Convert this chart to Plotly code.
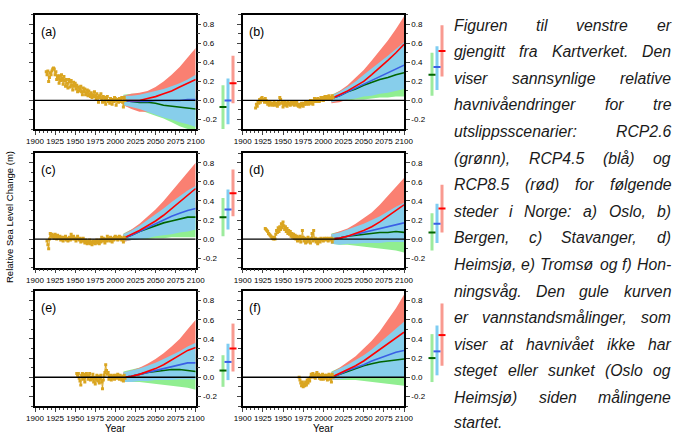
import plotly.graph_objects as go

W_PX, H_PX = 675, 434

# ---------------- data ----------------
PROJ_YEARS = [2010, 2020, 2030, 2040, 2050, 2060, 2070, 2080, 2090, 2100]
X_TICKS = [1900, 1925, 1950, 1975, 2000, 2025, 2050, 2075, 2100]
Y_TICKS = [-0.2, 0.0, 0.2, 0.4, 0.6, 0.8]
Y_TICKTEXT = ["-0.2", "0.0", "0.2", "0.4", "0.6", "0.8"]
PANEL_LABELS = ["(a)", "(b)", "(c)", "(d)", "(e)", "(f)"]

# (a) Oslo
A_OBS_YEARS = list(range(1914, 2013))
A_OBS = [0.30, 0.27, 0.31, 0.20, 0.24, 0.29, 0.27, 0.31, 0.33, 0.34, 0.33, 0.27, 0.30, 0.22, 0.26, 0.24,
         0.18, 0.26, 0.21, 0.27, 0.23, 0.17, 0.25, 0.21, 0.15, 0.22, 0.18, 0.13, 0.22, 0.20, 0.14, 0.21,
         0.16, 0.11, 0.19, 0.15, 0.18, 0.12, 0.16, 0.09, 0.14, 0.10, 0.12, 0.15, 0.09, 0.06, 0.13, 0.09,
         0.12, 0.06, 0.08, 0.11, 0.05, 0.10, 0.06, 0.04, 0.08, 0.03, 0.06, 0.04, 0.09, 0.05, 0.02, 0.07,
         0.03, -0.02, 0.05, 0.03, 0.07, 0.01, -0.02, 0.04, -0.01, 0.03, -0.04, 0.02, 0.04, -0.01, 0.00,
         -0.03, 0.02, 0.00, -0.04, 0.01, -0.01, 0.03, 0.02, -0.05, 0.00, 0.01, -0.02, 0.02, -0.01, 0.01,
         0.03, -0.02, -0.07, 0.03, 0.00]
A_R85_HI = [0.05, 0.07, 0.08, 0.10, 0.14, 0.20, 0.27, 0.35, 0.45, 0.55]
A_R85_LO = [-0.05, -0.09, -0.12, -0.12, -0.13, -0.13, -0.12, -0.12, -0.11, -0.10]
A_R45_HI = [0.05, 0.05, 0.06, 0.08, 0.10, 0.12, 0.15, 0.18, 0.22, 0.27]
A_R45_LO = [-0.05, -0.07, -0.09, -0.12, -0.15, -0.18, -0.20, -0.23, -0.25, -0.28]
A_R26_HI = [0.06, 0.07, 0.07, 0.07, 0.06, 0.06, 0.06, 0.06, 0.05, 0.05]
A_R26_LO = [-0.05, -0.08, -0.10, -0.13, -0.16, -0.19, -0.23, -0.27, -0.30, -0.33]
A_R85_MED = [0.00, 0.00, 0.00, 0.02, 0.04, 0.07, 0.10, 0.14, 0.18, 0.22]
A_R45_MED = [0.00, -0.01, -0.01, -0.01, 0.00, 0.00, 0.00, 0.00, 0.01, 0.01]
A_R26_MED = [0.00, -0.01, -0.02, -0.02, -0.03, -0.05, -0.06, -0.07, -0.08, -0.09]
A_BAR_LO = [-0.31, -0.25, -0.03]
A_BAR_HI = [0.16, 0.23, 0.47]
A_BAR_MED = [-0.07, 0.00, 0.18]

# (b) Bergen
B_OBS_YEARS = list(range(1916, 2013))
B_OBS = [-0.08, -0.04, -0.06, -0.02, -0.03, 0.01, -0.02, 0.02, 0.03, 0.01, 0.00, -0.02, 0.02, 0.00,
         -0.02, -0.04, -0.01, -0.05, -0.02, -0.04, -0.03, -0.05, -0.04, -0.02, -0.05, -0.03, -0.04,
         -0.06, -0.02, -0.04, 0.03, 0.01, -0.03, -0.01, -0.07, -0.04, -0.02, -0.05, -0.03, -0.06, -0.02,
         -0.04, -0.03, -0.05, -0.02, -0.04, -0.01, -0.03, -0.05, -0.02, -0.04, -0.02, -0.05, -0.06,
         -0.04, -0.07, -0.05, -0.03, -0.05, -0.06, -0.03, -0.04, -0.01, -0.04, -0.03, -0.02, -0.04,
         -0.01, 0.00, -0.03, -0.01, -0.04, 0.00, 0.02, -0.01, 0.01, -0.01, 0.02, 0.01, -0.01, 0.00, 0.03,
         0.01, 0.03, 0.00, 0.02, 0.04, 0.01, 0.02, 0.04, 0.02, 0.05, 0.01, 0.03, 0.02, 0.05, 0.03]
B_R85_HI = [0.05, 0.10, 0.16, 0.24, 0.32, 0.42, 0.52, 0.63, 0.75, 0.88]
B_R85_LO = [-0.03, -0.02, 0.01, 0.04, 0.07, 0.10, 0.13, 0.17, 0.22, 0.27]
B_R45_HI = [0.05, 0.09, 0.14, 0.20, 0.27, 0.34, 0.41, 0.47, 0.54, 0.61]
B_R45_LO = [-0.02, 0.00, 0.01, 0.02, 0.04, 0.05, 0.07, 0.08, 0.10, 0.12]
B_R26_HI = [0.06, 0.10, 0.13, 0.17, 0.21, 0.25, 0.29, 0.33, 0.37, 0.41]
B_R26_LO = [-0.02, 0.00, 0.00, 0.01, 0.01, 0.02, 0.03, 0.03, 0.04, 0.04]
B_R85_MED = [0.02, 0.06, 0.10, 0.15, 0.20, 0.27, 0.34, 0.42, 0.50, 0.59]
B_R45_MED = [0.02, 0.05, 0.09, 0.13, 0.17, 0.21, 0.25, 0.29, 0.33, 0.37]
B_R26_MED = [0.02, 0.05, 0.09, 0.12, 0.16, 0.19, 0.22, 0.24, 0.27, 0.29]
B_BAR_LO = [0.05, 0.11, 0.25]
B_BAR_HI = [0.50, 0.57, 0.79]
B_BAR_MED = [0.27, 0.35, 0.52]

# (c) Stavanger
C_OBS_YEARS = list(range(1915, 2013))
C_OBS = [-0.02, -0.06, -0.10, 0.00, 0.06, 0.03, 0.05, 0.02, 0.04, 0.01, 0.05, 0.03, 0.00, 0.04, 0.02,
         0.01, 0.03, -0.01, 0.02, 0.00, -0.02, 0.02, 0.00, 0.03, -0.01, 0.01, -0.02, 0.00, 0.02, -0.01,
         0.05, 0.02, 0.00, 0.03, 0.01, 0.00, -0.02, 0.01, 0.03, 0.00, -0.01, 0.01, -0.03, 0.00, -0.02,
         0.01, -0.02, -0.04, -0.01, -0.03, -0.05, -0.02, -0.04, -0.01, -0.05, -0.03, -0.06, -0.02, -0.04,
         -0.02, -0.05, -0.03, -0.01, -0.04, -0.02, -0.05, -0.01, -0.03, 0.02, -0.02, 0.01, -0.01, -0.04,
         0.00, -0.02, 0.03, -0.01, 0.01, -0.02, 0.02, 0.00, -0.03, 0.01, -0.01, 0.02, 0.03, 0.00, 0.02,
         -0.01, 0.01, 0.03, 0.00, 0.02, -0.01, 0.01, -0.03, 0.02, 0.00]
C_R85_HI = [0.05, 0.10, 0.16, 0.23, 0.31, 0.40, 0.50, 0.60, 0.70, 0.80]
C_R85_LO = [-0.03, -0.01, 0.02, 0.05, 0.08, 0.11, 0.14, 0.18, 0.22, 0.26]
C_R45_HI = [0.05, 0.09, 0.14, 0.20, 0.26, 0.32, 0.39, 0.45, 0.51, 0.56]
C_R45_LO = [-0.02, -0.01, 0.00, 0.01, 0.03, 0.04, 0.05, 0.07, 0.08, 0.10]
C_R26_HI = [0.06, 0.10, 0.13, 0.17, 0.21, 0.25, 0.29, 0.33, 0.36, 0.39]
C_R26_LO = [-0.02, -0.01, 0.00, 0.00, 0.01, 0.01, 0.02, 0.02, 0.02, 0.02]
C_R85_MED = [0.01, 0.05, 0.09, 0.14, 0.19, 0.25, 0.32, 0.39, 0.46, 0.53]
C_R45_MED = [0.01, 0.04, 0.08, 0.12, 0.16, 0.20, 0.24, 0.27, 0.30, 0.32]
C_R26_MED = [0.01, 0.04, 0.08, 0.11, 0.14, 0.17, 0.19, 0.21, 0.23, 0.23]
C_BAR_LO = [0.03, 0.10, 0.24]
C_BAR_HI = [0.43, 0.52, 0.73]
C_BAR_MED = [0.23, 0.31, 0.48]

# (d) Heimsjø
D_OBS_YEARS = list(range(1928, 2013))
D_OBS = [0.11, 0.10, 0.09, 0.08, 0.06, 0.05, 0.04, 0.03, 0.02, 0.01, 0.00, 0.02, 0.00, 0.05, 0.09,
         0.07, 0.12, 0.08, 0.13, 0.10, 0.16, 0.12, 0.18, 0.14, 0.10, 0.13, 0.08, 0.11, 0.06, 0.09, 0.05,
         0.08, 0.03, 0.06, 0.02, 0.05, 0.01, 0.04, 0.00, 0.03, -0.02, 0.02, -0.01, 0.03, -0.03, 0.01,
         0.09, 0.02, -0.02, 0.01, -0.04, 0.00, -0.03, 0.02, -0.02, 0.00, -0.04, 0.01, 0.06, -0.02, 0.09,
         -0.01, 0.01, -0.03, 0.00, -0.05, -0.02, 0.00, -0.03, 0.01, -0.01, 0.00, -0.02, 0.01, 0.00, -0.01,
         0.01, 0.00, -0.02, 0.01, 0.00, -0.01, 0.01, -0.03, 0.00]
D_R85_HI = [0.05, 0.08, 0.11, 0.16, 0.22, 0.28, 0.36, 0.45, 0.54, 0.64]
D_R85_LO = [-0.05, -0.05, -0.04, -0.03, -0.01, 0.01, 0.03, 0.05, 0.07, 0.09]
D_R45_HI = [0.05, 0.07, 0.10, 0.13, 0.16, 0.20, 0.24, 0.29, 0.34, 0.38]
D_R45_LO = [-0.05, -0.06, -0.05, -0.05, -0.04, -0.04, -0.04, -0.03, -0.03, -0.03]
D_R26_HI = [0.06, 0.08, 0.10, 0.12, 0.14, 0.16, 0.18, 0.20, 0.22, 0.24]
D_R26_LO = [-0.05, -0.06, -0.06, -0.07, -0.08, -0.09, -0.10, -0.11, -0.12, -0.14]
D_R85_MED = [0.00, 0.01, 0.03, 0.06, 0.09, 0.13, 0.18, 0.24, 0.30, 0.36]
D_R45_MED = [0.00, 0.01, 0.03, 0.05, 0.07, 0.09, 0.11, 0.13, 0.15, 0.17]
D_R26_MED = [0.00, 0.01, 0.03, 0.04, 0.05, 0.06, 0.07, 0.07, 0.08, 0.07]
D_BAR_LO = [-0.12, -0.04, 0.07]
D_BAR_HI = [0.27, 0.37, 0.57]
D_BAR_MED = [0.07, 0.16, 0.32]

# (e) Tromsø
E_OBS_YEARS = list(range(1952, 2013))
E_OBS = [0.04, 0.02, 0.04, -0.01, -0.04, -0.08, 0.02, 0.04, -0.02, 0.03, -0.05, 0.01, 0.04, 0.02,
         -0.02, 0.01, 0.04, -0.03, 0.00, -0.02, 0.03, -0.05, 0.00, -0.07, -0.02, 0.02, -0.04, 0.01,
         -0.06, -0.02, 0.02, -0.05, -0.12, -0.03, 0.02, 0.05, 0.13, 0.07, 0.03, 0.05, -0.02, 0.00, 0.02,
         -0.03, 0.01, -0.01, 0.02, -0.02, 0.00, 0.02, -0.01, 0.03, 0.00, -0.02, 0.02, 0.00, -0.03, 0.01,
         -0.04, 0.02, -0.01]
E_R85_HI = [0.05, 0.07, 0.10, 0.14, 0.19, 0.25, 0.32, 0.40, 0.50, 0.60]
E_R85_LO = [-0.05, -0.04, -0.03, -0.02, 0.00, 0.02, 0.04, 0.06, 0.07, 0.08]
E_R45_HI = [0.05, 0.07, 0.09, 0.12, 0.15, 0.19, 0.23, 0.27, 0.32, 0.36]
E_R45_LO = [-0.05, -0.05, -0.04, -0.04, -0.03, -0.03, -0.03, -0.02, -0.02, -0.02]
E_R26_HI = [0.06, 0.08, 0.10, 0.12, 0.14, 0.16, 0.18, 0.20, 0.22, 0.24]
E_R26_LO = [-0.05, -0.05, -0.05, -0.06, -0.07, -0.08, -0.09, -0.10, -0.11, -0.13]
E_R85_MED = [0.00, 0.01, 0.03, 0.06, 0.09, 0.13, 0.18, 0.23, 0.28, 0.31]
E_R45_MED = [0.00, 0.01, 0.03, 0.05, 0.07, 0.09, 0.11, 0.13, 0.15, 0.15]
E_R26_MED = [0.00, 0.01, 0.03, 0.05, 0.06, 0.07, 0.08, 0.08, 0.07, 0.06]
E_BAR_LO = [-0.10, -0.03, 0.06]
E_BAR_HI = [0.23, 0.35, 0.56]
E_BAR_MED = [0.07, 0.16, 0.30]

# (f) Honningsvåg
F_OBS_YEARS = list(range(1970, 2013))
F_OBS = [0.00, -0.03, -0.06, -0.09, -0.05, -0.10, -0.07, -0.09, -0.05, -0.08, -0.03, -0.06, -0.02,
         -0.04, 0.00, 0.03, 0.01, 0.04, 0.00, 0.02, -0.01, 0.03, 0.05, 0.01, 0.03, -0.01, 0.02, -0.02,
         0.01, 0.03, -0.02, 0.00, 0.02, -0.01, 0.02, -0.03, 0.01, 0.03, -0.02, 0.02, -0.05, 0.03, 0.00]
F_R85_HI = [0.05, 0.10, 0.16, 0.22, 0.30, 0.38, 0.48, 0.60, 0.72, 0.86]
F_R85_LO = [-0.03, -0.02, 0.00, 0.03, 0.06, 0.09, 0.12, 0.15, 0.19, 0.23]
F_R45_HI = [0.05, 0.09, 0.13, 0.18, 0.23, 0.29, 0.36, 0.43, 0.50, 0.58]
F_R45_LO = [-0.03, -0.02, -0.01, 0.00, 0.00, 0.00, 0.00, 0.00, 0.00, 0.00]
F_R26_HI = [0.06, 0.10, 0.13, 0.16, 0.19, 0.23, 0.27, 0.30, 0.33, 0.36]
F_R26_LO = [-0.03, -0.03, -0.03, -0.03, -0.04, -0.05, -0.06, -0.07, -0.08, -0.09]
F_R85_MED = [0.00, 0.04, 0.08, 0.12, 0.17, 0.23, 0.29, 0.35, 0.41, 0.47]
F_R45_MED = [0.00, 0.03, 0.07, 0.10, 0.13, 0.17, 0.20, 0.23, 0.26, 0.28]
F_R26_MED = [0.00, 0.03, 0.06, 0.09, 0.12, 0.14, 0.16, 0.17, 0.18, 0.19]
F_BAR_LO = [-0.05, 0.02, 0.12]
F_BAR_HI = [0.45, 0.54, 0.77]
F_BAR_MED = [0.20, 0.27, 0.44]

TEXT_LINES = [
    "Figuren til venstre er",
    "gjengitt fra Kartverket. Den",
    "viser sannsynlige relative",
    "havnivåendringer for tre",
    "utslippsscenarier: RCP2.6",
    "(grønn), RCP4.5 (blå) og",
    "RCP8.5 (rød) for følgende",
    "steder i Norge: a) Oslo, b)",
    "Bergen, c) Stavanger, d)",
    "Heimsjø, e) Tromsø og f) Hon-",
    "ningsvåg. Den gule kurven",
    "er vannstandsmålinger, som",
    "viser at havnivået ikke har",
    "steget eller sunket (Oslo og",
    "Heimsjø) siden målingene",
    "startet.",
]

PANELS = [
    (A_OBS_YEARS, A_OBS, A_R85_HI, A_R85_LO, A_R45_HI, A_R45_LO, A_R26_HI, A_R26_LO,
     A_R85_MED, A_R45_MED, A_R26_MED, A_BAR_LO, A_BAR_HI, A_BAR_MED),
    (B_OBS_YEARS, B_OBS, B_R85_HI, B_R85_LO, B_R45_HI, B_R45_LO, B_R26_HI, B_R26_LO,
     B_R85_MED, B_R45_MED, B_R26_MED, B_BAR_LO, B_BAR_HI, B_BAR_MED),
    (C_OBS_YEARS, C_OBS, C_R85_HI, C_R85_LO, C_R45_HI, C_R45_LO, C_R26_HI, C_R26_LO,
     C_R85_MED, C_R45_MED, C_R26_MED, C_BAR_LO, C_BAR_HI, C_BAR_MED),
    (D_OBS_YEARS, D_OBS, D_R85_HI, D_R85_LO, D_R45_HI, D_R45_LO, D_R26_HI, D_R26_LO,
     D_R85_MED, D_R45_MED, D_R26_MED, D_BAR_LO, D_BAR_HI, D_BAR_MED),
    (E_OBS_YEARS, E_OBS, E_R85_HI, E_R85_LO, E_R45_HI, E_R45_LO, E_R26_HI, E_R26_LO,
     E_R85_MED, E_R45_MED, E_R26_MED, E_BAR_LO, E_BAR_HI, E_BAR_MED),
    (F_OBS_YEARS, F_OBS, F_R85_HI, F_R85_LO, F_R45_HI, F_R45_LO, F_R26_HI, F_R26_LO,
     F_R85_MED, F_R45_MED, F_R26_MED, F_BAR_LO, F_BAR_HI, F_BAR_MED),
]

# ---------------- style ----------------
C_OBS = "#DAA520"
C_R85_BAND, C_R45_BAND, C_R26_BAND = "#FA8072", "#87CEEB", "#90EE90"
C_R85_LINE, C_R45_LINE, C_R26_LINE = "#FF0000", "#3A5FE5", "#006400"
BAR_LIGHT = ["#9DEB9D", "#7FCDF2", "#F99A90"]
BAR_DARK = [C_R26_LINE, C_R45_LINE, C_R85_LINE]
SANS = "Liberation Sans, Arial, sans-serif"
AX_FONT = dict(family=SANS, size=8, color="black")

COL_X = [(35.0, 195.7), (242.7, 404.0)]
BAR_X = [(218.0, 238.0), (427.0, 447.0)]
ROW_Y = [(14.7, 129.0), (153.3, 267.7), (291.0, 406.0)]


def px_x(p):
    return p / W_PX


def px_y(p):
    return 1 - p / H_PX


fig = go.Figure()
layout = dict(
    width=W_PX, height=H_PX, margin=dict(l=0, r=0, t=0, b=0, autoexpand=False),
    paper_bgcolor="white", plot_bgcolor="white", showlegend=False,
    barmode="overlay",
)
annotations = []

for i, p in enumerate(PANELS):
    (oy, ov, r85h, r85l, r45h, r45l, r26h, r26l, r85m, r45m, r26m, blo, bhi, bmed) = p
    n = i + 1
    row, col = i // 2, i % 2
    xa, ya, xb = f"x{n}", f"y{n}", f"x{n + 6}"
    x0, x1 = COL_X[col]
    yt, yb = ROW_Y[row]

    def band(hi, lo, color):
        fig.add_trace(go.Scatter(
            x=PROJ_YEARS + PROJ_YEARS[::-1], y=hi + lo[::-1], fill="toself",
            fillcolor=color, line=dict(width=0), mode="lines", hoverinfo="skip",
            xaxis=xa, yaxis=ya))

    band(r26h, r26l, C_R26_BAND)
    band(r85h, r85l, C_R85_BAND)
    band(r45h, r45l, C_R45_BAND)
    for med, colr in ((r26m, C_R26_LINE), (r45m, C_R45_LINE), (r85m, C_R85_LINE)):
        fig.add_trace(go.Scatter(x=PROJ_YEARS, y=med, mode="lines",
                                 line=dict(color=colr, width=1.6), xaxis=xa, yaxis=ya))
    fig.add_trace(go.Scatter(x=oy, y=ov, mode="lines+markers",
                             line=dict(color=C_OBS, width=1),
                             marker=dict(color=C_OBS, size=3, symbol="square"),
                             xaxis=xa, yaxis=ya))
    fig.add_trace(go.Scatter(x=[X_TICKS[0], X_TICKS[-1]], y=[0, 0], mode="lines",
                             line=dict(color="black", width=1.3), xaxis=xa, yaxis=ya))
    # 2100 range bars
    fig.add_trace(go.Bar(x=[1, 2, 3], y=[h - l for h, l in zip(bhi, blo)], base=blo,
                         width=0.6, marker=dict(color=BAR_LIGHT, line=dict(width=0)),
                         xaxis=xb, yaxis=ya))
    fig.add_trace(go.Scatter(x=[1, 2, 3], y=bmed, mode="markers",
                             marker=dict(symbol="line-ew", size=5,
                                         line=dict(color=BAR_DARK, width=2)),
                             xaxis=xb, yaxis=ya))

    layout[f"xaxis{n}"] = dict(
        domain=[px_x(x0), px_x(x1)], anchor=ya, range=[1900, 2100],
        tickvals=X_TICKS, ticks="outside", ticklen=4, tickwidth=1, tickangle=0,
        showline=True, linecolor="black", linewidth=1.5, mirror=True,
        showgrid=False, zeroline=False, tickfont=AX_FONT,
        minor=dict(dtick=5, ticklen=2, ticks="outside"), fixedrange=True)
    layout[f"yaxis{n}"] = dict(
        domain=[px_y(yb), px_y(yt)], anchor=xa, range=[-0.3, 0.9], side="right",
        tickvals=Y_TICKS, ticktext=Y_TICKTEXT, ticks="outside", ticklen=4, tickwidth=1,
        showline=True, linecolor="black", linewidth=1.5, mirror="ticks",
        showgrid=False, zeroline=False, tickfont=AX_FONT,
        minor=dict(dtick=0.1, ticklen=2.5, ticks="outside"), fixedrange=True)
    layout[f"xaxis{n + 6}"] = dict(
        domain=[px_x(BAR_X[col][0]), px_x(BAR_X[col][1])], anchor=ya, range=[0, 4],
        visible=False, fixedrange=True)

    annotations.append(dict(
        text=PANEL_LABELS[i], xref="paper", yref="paper", x=px_x(x0 + 4), y=px_y(yt + 17),
        xanchor="left", yanchor="middle", showarrow=False,
        font=dict(family=SANS, size=12.5, color="black")))

for col in range(2):
    annotations.append(dict(
        text="Year", xref="paper", yref="paper", x=px_x(sum(COL_X[col]) / 2), y=px_y(428),
        xanchor="center", yanchor="middle", showarrow=False,
        font=dict(family=SANS, size=10, color="black")))

annotations.append(dict(
    text="Relative Sea Level Change (m)", xref="paper", yref="paper",
    x=px_x(9), y=px_y(217), textangle=-90, xanchor="center", yanchor="middle",
    showarrow=False, font=dict(family=SANS, size=9.5, color="black")))

# ---------- justified paragraph (Liberation Sans = Arial metrics) ----------
ARIAL = {
    'a': 556, 'b': 556, 'c': 500, 'd': 556, 'e': 556, 'f': 278, 'g': 556, 'h': 556, 'i': 222,
    'j': 222, 'k': 500, 'l': 222, 'm': 833, 'n': 556, 'o': 556, 'p': 556, 'q': 556, 'r': 333,
    's': 500, 't': 278, 'u': 556, 'v': 500, 'w': 722, 'x': 500, 'y': 500, 'z': 500, 'å': 556,
    'ø': 611, 'æ': 889, 'A': 667, 'B': 667, 'C': 722, 'D': 722, 'E': 667, 'F': 611, 'G': 778,
    'H': 722, 'I': 278, 'J': 500, 'K': 667, 'L': 556, 'M': 833, 'N': 722, 'O': 778, 'P': 667,
    'R': 722, 'S': 667, 'T': 611, ' ': 278, '.': 278, ',': 278, ':': 278, '(': 333, ')': 333,
    '-': 333,
}
TXT_SIZE = 15.8
TXT_FONT = dict(family="Liberation Sans, Arial, sans-serif", size=TXT_SIZE,
                style="italic", color="#1a1a1a")
TX0, TX1 = 453.0, 670.0


def wwidth(s):
    return sum(ARIAL.get(c, 556) for c in s) / 1000.0 * TXT_SIZE


for li, line in enumerate(TEXT_LINES):
    last = li == len(TEXT_LINES) - 1
    ymid = 25 + 26.6 * li if not last else 422
    words = line.split(" ")
    if last or len(words) == 1:
        annotations.append(dict(text=line, xref="paper", yref="paper", x=px_x(TX0),
                                y=px_y(ymid), xanchor="left", yanchor="middle",
                                showarrow=False, font=TXT_FONT, borderpad=0))
        continue
    widths = [wwidth(w) for w in words]
    gap = (TX1 - TX0 - sum(widths)) / (len(words) - 1)
    xpos = TX0
    for w, ww in zip(words, widths):
        annotations.append(dict(text=w, xref="paper", yref="paper",
                                x=px_x(xpos), y=px_y(ymid),
                                xanchor="left", yanchor="middle",
                                showarrow=False, font=TXT_FONT, borderpad=0))
        xpos += ww + gap

layout["annotations"] = annotations
fig.update_layout(**layout)
fig.write_html("out.html", config={"displayModeBar": False},
               post_script="document.body.style.margin='0';document.body.style.overflow='hidden';")
